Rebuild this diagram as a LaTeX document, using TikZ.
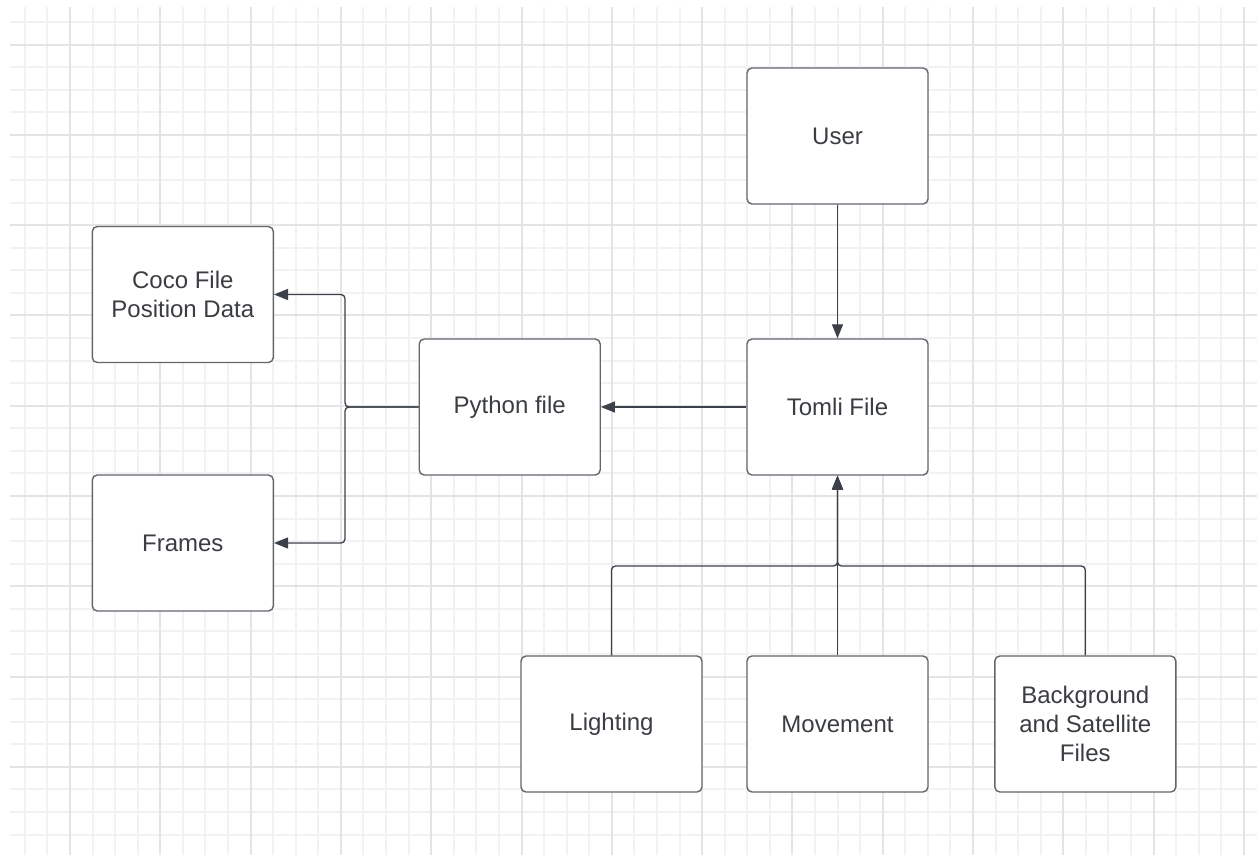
\documentclass[tikz,border=0pt]{standalone}
\usepackage{fontspec}
\setmainfont{Liberation Sans}
\usetikzlibrary{arrows.meta}

\definecolor{gridminor}{HTML}{F2F2F2}
\definecolor{gridmajor}{HTML}{E4E4E4}
\definecolor{boxgray}{HTML}{62666D}
\definecolor{linegray}{HTML}{3B4049}
\definecolor{textgray}{HTML}{3A3D42}

\tikzset{
  box/.style={draw=boxgray, line width=1.4pt, rounded corners=5pt, fill=white,
    minimum width=181pt, minimum height=136pt, inner sep=0pt, align=center,
    text=textgray, font=\fontsize{24}{29}\selectfont},
  conn/.style={draw=linegray, line width=1.3pt, rounded corners=4pt,
    -{Triangle[length=14pt,width=11pt]}},
}

\begin{document}
\begin{tikzpicture}[x=1pt,y=-1pt]
  \useasboundingbox (0,0) rectangle (1257,855);
  \fill[white] (0,0) rectangle (1257,855);

  % background grid: minor lines every 22.575, major every fourth
  \foreach \i in {-2,...,52} {
    \pgfmathsetmacro\gx{70+\i*22.575}
    \draw[gridminor, line width=2pt] (\gx,7) -- (\gx,855);
  }
  \foreach \j in {-1,...,35} {
    \pgfmathsetmacro\gy{44.5+\j*22.575}
    \draw[gridminor, line width=2pt] (10,\gy) -- (1257,\gy);
  }
  \foreach \i in {0,...,13} {
    \pgfmathsetmacro\gx{70+\i*90.3}
    \draw[gridmajor, line width=2pt] (\gx,7) -- (\gx,855);
  }
  \foreach \j in {0,...,8} {
    \pgfmathsetmacro\gy{44.5+\j*90.3}
    \draw[gridmajor, line width=2pt] (10,\gy) -- (1257,\gy);
  }

  % boxes
  \node[box] (user)   at (837.5,136)  {User};
  \node[box] (tomli)  at (837.5,407)  {Tomli File};
  \node[box] (python) at (509.7,407)  {Python file};
  \node[box] (coco)   at (182.8,294.5){Coco File\\Position Data};
  \node[box] (frames) at (182.8,543)  {Frames};
  \node[box] (light)  at (611.5,724)  {Lighting};
  \node[box] (move)   at (837.5,724)  {Movement};
  \node[box] (bg)     at (1085.3,724) {Background\\and Satellite\\Files};

  % junction points of the branching connectors
  \coordinate (split) at (345,407);
  \coordinate (bus)   at (837.5,566);

  % connectors
  \draw[conn] (user.south) -- (tomli.north);
  \draw[conn] (tomli.west) -- (python.east);
  \draw[conn] (python.west) -- (split) |- (coco.east);
  \draw[conn] (python.west) -- (split) |- (frames.east);
  \draw[conn] (move.north) -- (tomli.south);
  \draw[conn] (light.north) |- (bus) -- (tomli.south);
  \draw[conn] (bg.north) |- (bus) -- (tomli.south);
\end{tikzpicture}
\end{document}
